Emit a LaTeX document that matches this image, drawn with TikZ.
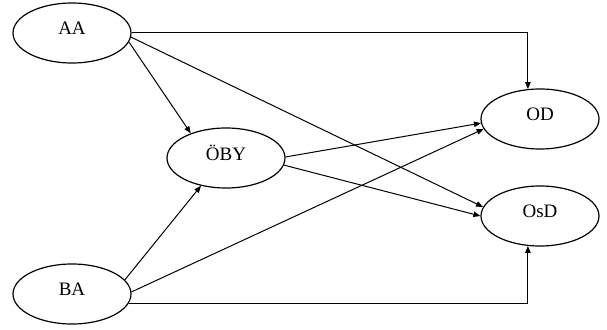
\documentclass[tikz,border=0pt]{standalone}
\usepackage{fontspec}
\setmainfont{Liberation Serif}
\usetikzlibrary{shapes.geometric,arrows.meta}
\begin{document}
\begin{tikzpicture}[x=1pt,y=-1pt,
  st/.style={ellipse,draw,line width=1.2pt,minimum width=118pt,minimum height=60pt,inner sep=0pt,
    font=\fontsize{19}{22}\selectfont},
  arr/.style={line width=1pt,-{Triangle[length=7pt,width=5.5pt]}}]
\useasboundingbox (0,0) rectangle (607,329);
\node[st] (AA) at (72,33) {\raisebox{10pt}{AA}};
\node[st] (OBY) at (226,158) {\raisebox{10pt}{ÖBY}};
\node[st] (OD) at (540,119) {\raisebox{10pt}{OD}};
\node[st] (OsD) at (540,216) {\raisebox{10pt}{OsD}};
\node[st] (BA) at (72,294) {\raisebox{10pt}{BA}};
\draw[arr] (AA.east) -| (OD.112);
\draw[arr] (AA.-9) -- (OBY.145);
\draw[arr] (AA.-4) -- (OsD.171);
\draw[arr] (OBY.1) -- (OD.184);
\draw[arr] (OBY.-7) -- (OsD.180);
\draw[arr] (BA.15) -- (OBY.228);
\draw[arr] (BA.2) -- (OD.190);
\draw[arr] (BA.-9) -| (OsD.248);
\end{tikzpicture}
\end{document}
